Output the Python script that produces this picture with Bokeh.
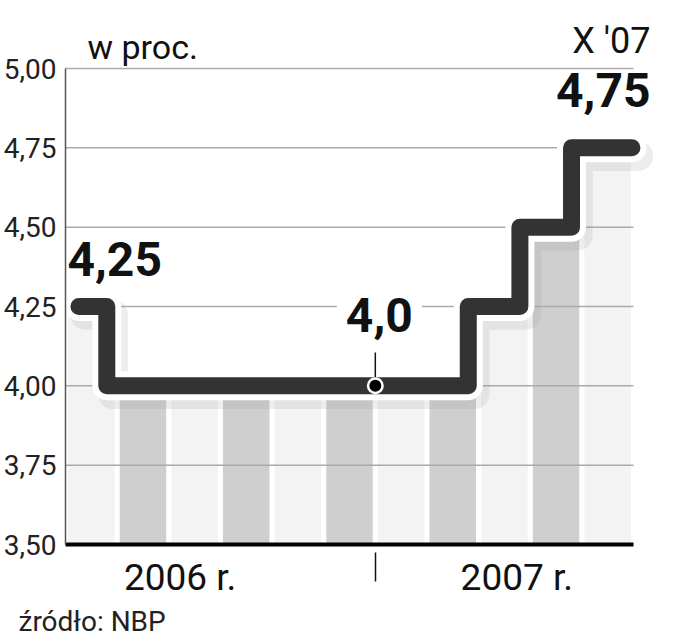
import numpy as np
from bokeh.plotting import figure
from bokeh.models import FixedTicker, Label, LinearAxis, Range1d, ColumnDataSource
from bokeh.embed import file_html
from bokeh.resources import INLINE

# ---- data ----
periods = list(range(11))  # bimonthly periods: I-II 2006 ... IX-X 2007
rates = [4.25, 4.00, 4.00, 4.00, 4.00, 4.00, 4.00, 4.00, 4.25, 4.50, 4.75]
bar_colors = ["#f3f3f3", "#cfcfcf"]
y_ticks = [3.50, 3.75, 4.00, 4.25, 4.50, 4.75, 5.00]
y_tick_labels = ["3,50", "3,75", "4,00", "4,25", "4,50", "4,75", "5,00"]
year_labels = ["2006 r.", "2007 r."]
year_label_x = [1.72, 8.24]
year_divider = 5.5
start_label = "4,25"
mid_label = "4,0"
mid_value = 4.00
end_label = "4,75"
end_period_label = "X '07"
unit_label = "w proc."
source_label = "źródło: NBP"

FONT = "Roboto"
X0, X1 = -0.5, 10.5
Y0, Y1 = 3.5, 5.0

# frame covers the whole canvas; axes are drawn at fixed data locations
p = figure(width=673, height=640,
           x_range=Range1d(-1.7588, 11.2747), y_range=Range1d(3.1975, 5.2143),
           output_backend="svg", toolbar_location=None, title=None,
           x_axis_type=None, y_axis_type=None,
           min_border_left=0, min_border_right=0, min_border_top=0, min_border_bottom=0)
p.outline_line_color = None
p.background_fill_color = "white"
p.border_fill_color = "white"
p.xgrid.visible = False
p.ygrid.visible = False

# axes
yaxis = LinearAxis(ticker=FixedTicker(ticks=y_ticks), fixed_location=X0, bounds=(Y0, Y1),
                   major_label_overrides=dict(zip(y_ticks, y_tick_labels)),
                   major_tick_in=0, major_tick_out=0, minor_tick_in=0, minor_tick_out=0,
                   major_label_standoff=9,
                   major_label_text_font=FONT, major_label_text_font_size="28px",
                   major_label_text_color="#222222",
                   axis_line_color="#555555", axis_line_width=1.5)
p.add_layout(yaxis, "left")

xaxis = LinearAxis(ticker=FixedTicker(ticks=[year_divider]), fixed_location=Y0, bounds=(X0, X1),
                   major_tick_in=-8, major_tick_out=37, minor_tick_in=0, minor_tick_out=0,
                   major_tick_line_color="#111111", major_tick_line_width=1.5,
                   major_label_text_color=None,
                   axis_line_color="#000000", axis_line_width=4)
p.add_layout(xaxis, "below")

# horizontal grid lines at tick values
p.segment(x0=X0, x1=X1, y0=y_ticks, y1=y_ticks, line_color="#aaaaaa", line_width=1.5,
          level="underlay")

# background bars
src = ColumnDataSource(dict(x=periods, top=rates,
                            color=[bar_colors[i % 2] for i in periods]))
p.vbar(x="x", top="top", bottom=Y0, width=0.9, fill_color="color", line_color=None,
       source=src, level="image")

# step line
shift = 0.3
xs = [-0.24]
ys = [rates[0]]
for i in range(len(rates) - 1):
    if rates[i + 1] != rates[i]:
        xs += [periods[i] + shift, periods[i] + shift]
        ys += [rates[i], rates[i + 1]]
xs.append(10.47)
ys.append(rates[-1])
xs = np.array(xs)
ys = np.array(ys)

p.line(xs + 0.12, ys - 0.026, line_color="#9a9a9a", line_alpha=0.18, line_width=30,
       line_join="round", line_cap="round")
p.line(xs, ys, line_color="white", line_width=29, line_join="round", line_cap="round")
p.line(xs, ys, line_color="#333333", line_width=17, line_join="round", line_cap="round")

# mid annotation
p.segment(x0=[year_divider], y0=[mid_value], x1=[year_divider], y1=[mid_value + 0.105],
          line_color="#111111", line_width=1.5)
p.scatter([year_divider], [mid_value], size=17, fill_color="white", line_color=None)
p.scatter([year_divider], [mid_value], size=12, fill_color="#000000", line_color=None)

p.add_layout(Label(x=year_divider, y=mid_value, x_offset=4, y_offset=71, text=mid_label,
                   text_align="center", text_baseline="alphabetic",
                   text_font=FONT, text_font_style="bold", text_font_size="48px",
                   text_color="#111111", background_fill_color="white", padding=9))

p.add_layout(Label(x=X0, y=rates[0], x_offset=2, y_offset=48, text=start_label,
                   text_align="left", text_baseline="alphabetic",
                   text_font=FONT, text_font_style="bold", text_font_size="48px",
                   text_color="#111111"))

p.add_layout(Label(x=X1, y=rates[-1], x_offset=17, y_offset=58, text=end_label,
                   text_align="right", text_baseline="alphabetic",
                   text_font=FONT, text_font_style="bold", text_font_size="48px",
                   text_color="#111111"))

p.add_layout(Label(x=X1, y=Y1, x_offset=17, y_offset=28, text=end_period_label,
                   text_align="right", text_baseline="alphabetic",
                   text_font=FONT, text_font_size="36px", text_color="#111111"))

p.add_layout(Label(x=X0, y=Y1, x_offset=22, y_offset=22, text=unit_label,
                   text_align="left", text_baseline="alphabetic",
                   text_font=FONT, text_font_size="34px", text_color="#111111"))

for lbl, xv in zip(year_labels, year_label_x):
    p.add_layout(Label(x=xv, y=Y0, y_offset=-33, text=lbl,
                       text_align="center", text_baseline="alphabetic",
                       text_font=FONT, text_font_size="37px", text_color="#111111"))

p.add_layout(Label(x=X0, y=Y0, x_offset=-47, y_offset=-77, text=source_label,
                   text_align="left", text_baseline="alphabetic",
                   text_font=FONT, text_font_size="28px", text_color="#222222"))

open("out.html", "w").write(file_html(p, INLINE))
